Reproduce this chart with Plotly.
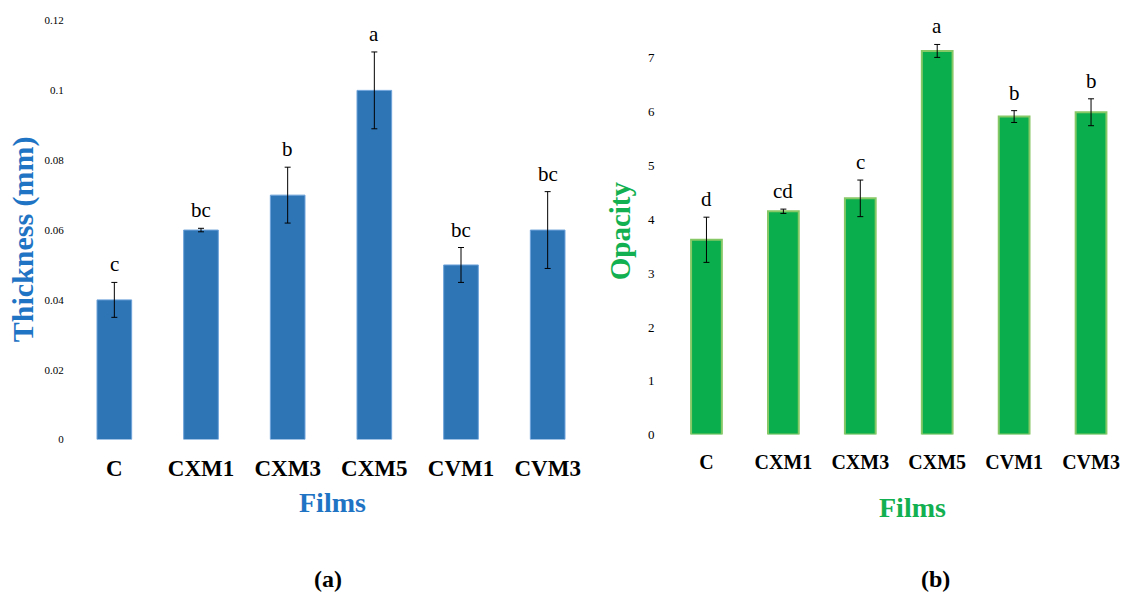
import plotly.graph_objects as go

films = ["C", "CXM1", "CXM3", "CXM5", "CVM1", "CVM3"]

thickness = [0.040, 0.060, 0.070, 0.100, 0.050, 0.060]
thickness_err = [0.005, 0.0005, 0.008, 0.011, 0.005, 0.011]
thickness_letters = ["c", "bc", "b", "a", "bc", "bc"]
thickness_ticks = [0, 0.02, 0.04, 0.06, 0.08, 0.1, 0.12]
thickness_ticktext = ["0", "0.02", "0.04", "0.06", "0.08", "0.1", "0.12"]

opacity = [3.62, 4.15, 4.39, 7.13, 5.91, 5.99]
opacity_err = [0.42, 0.04, 0.34, 0.12, 0.11, 0.25]
opacity_letters = ["d", "cd", "c", "a", "b", "b"]
opacity_ticks = [0, 1, 2, 3, 4, 5, 6, 7]

BLUE_BAR = "#2E75B6"
BLUE_TXT = "#1F74C4"
GREEN_BAR = "#0BAE4C"
GREEN_EDGE = "#86C866"
GREEN_TXT = "#12B050"
SERIF = "Liberation Serif"
W, H = 1139, 596


def Y(py):
    # vertical pixel -> layout pixel (compensates the capture's vertical scaling)
    return py * 1.0204 - 5


fig = go.Figure()

fig.add_trace(go.Bar(
    x=films, y=thickness, xaxis="x", yaxis="y",
    marker=dict(color=BLUE_BAR, line=dict(color="#6FA3DA", width=1)),
    error_y=dict(type="data", array=thickness_err, color="black", thickness=1, width=3),
    showlegend=False,
))
fig.add_trace(go.Bar(
    x=films, y=opacity, xaxis="x2", yaxis="y2",
    marker=dict(color=GREEN_BAR, line=dict(color=GREEN_EDGE, width=2)),
    error_y=dict(type="data", array=opacity_err, color="black", thickness=1, width=3),
    showlegend=False,
))

annotations = []
for f, v, e, t in zip(films, thickness, thickness_err, thickness_letters):
    annotations.append(dict(x=f, y=v + e, xref="x", yref="y", text=t, showarrow=False,
                            yanchor="bottom", yshift=4,
                            font=dict(family=SERIF, size=21, color="black")))
for f, v, e, t in zip(films, opacity, opacity_err, opacity_letters):
    annotations.append(dict(x=f, y=v + e, xref="x2", yref="y2", text=t, showarrow=False,
                            yanchor="bottom", yshift=4,
                            font=dict(family=SERIF, size=21, color="black")))


def label(px, py, text, size, color, angle=0):
    return dict(x=px / W, y=1 - Y(py) / H, xref="paper", yref="paper", text=text,
                textangle=angle, showarrow=False, xanchor="center", yanchor="middle",
                font=dict(family=SERIF, size=size, color=color))


annotations += [
    label(23, 239, "<b>Thickness (mm)</b>", 30, BLUE_TXT, -90),
    label(332, 503, "<b>Films</b>", 28, BLUE_TXT),
    label(620, 231, "<b>Opacity</b>", 29, GREEN_TXT, -90),
    label(912, 508, "<b>Films</b>", 28, GREEN_TXT),
    label(328, 580, "<b>(a)</b>", 24, "black"),
    label(935, 580, "<b>(b)</b>", 24, "black"),
]

fig.update_layout(
    width=W, height=H,
    margin=dict(l=0, r=0, t=0, b=0),
    paper_bgcolor="white", plot_bgcolor="white",
    bargap=0.6,
    annotations=annotations,
    xaxis=dict(domain=[71 / W, 591 / W], anchor="y", showline=False, showgrid=False,
               ticks="outside", ticklen=8, tickcolor="rgba(0,0,0,0)",
               tickfont=dict(family=SERIF, size=23, color="black"),
               tickprefix="<b>", ticksuffix="</b>"),
    yaxis=dict(domain=[1 - Y(440) / H, 1 - Y(19.5) / H], anchor="x", range=[0, 0.12],
               showgrid=False, showline=False, zeroline=False,
               tickvals=thickness_ticks, ticktext=thickness_ticktext,
               ticks="outside", ticklen=4, tickcolor="rgba(0,0,0,0)",
               tickfont=dict(family=SERIF, size=11, color="black")),
    xaxis2=dict(domain=[668 / W, 1129.5 / W], anchor="y2", showline=False, showgrid=False,
                ticks="outside", ticklen=9, tickcolor="rgba(0,0,0,0)",
                tickfont=dict(family=SERIF, size=20, color="black"),
                tickprefix="<b>", ticksuffix="</b>"),
    yaxis2=dict(domain=[1 - Y(435) / H, 1 - Y(435 - 7.6 * 54) / H], anchor="x2", range=[0, 7.6],
                showgrid=False, showline=False, zeroline=False,
                tickvals=opacity_ticks, ticks="outside", ticklen=10,
                tickcolor="rgba(0,0,0,0)",
                tickfont=dict(family=SERIF, size=13, color="black")),
)

post = (
    "document.documentElement.style.margin='0';"
    "document.body.style.margin='0';"
    "document.body.style.overflow='hidden';"
    "var gd=document.getElementsByClassName('plotly-graph-div')[0];"
    "gd.style.position='fixed';gd.style.left='0px';gd.style.top='0px';"
)
fig.write_html("out.html", config={"displayModeBar": False}, post_script=post)
